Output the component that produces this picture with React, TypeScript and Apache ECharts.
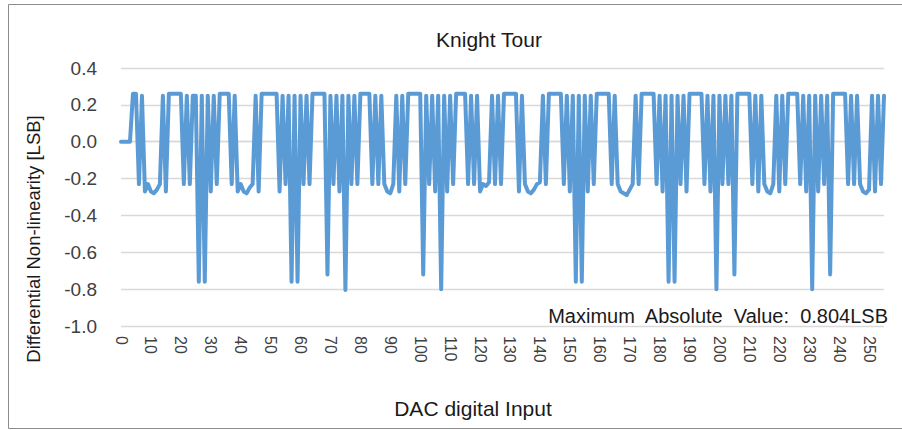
import React, { useEffect, useRef } from "react";
import * as echarts from "echarts";

// DAC input codes 0..255
const codes: string[] = Array.from({ length: 256 }, (_, i) => String(i));

// Differential non-linearity per code [LSB]
const dnl: number[] = [
  0, 0, 0, 0, 0.26, 0.26, -0.23, 0.25, -0.27, -0.23, -0.27, -0.28, -0.26, -0.23, 0.25, -0.27,
  0.26, 0.26, 0.26, 0.26, 0.26, -0.23, 0.25, -0.23, 0.25, 0.25, -0.76, 0.25, -0.76, 0.25, -0.27, 0.25,
  -0.23, 0.26, 0.26, 0.26, 0.26, -0.23, 0.25, -0.27, -0.23, -0.27, -0.28, -0.25, -0.23, 0.25, -0.27, 0.26,
  0.26, 0.26, 0.26, 0.26, 0.26, -0.27, 0.25, -0.23, 0.25, -0.76, 0.25, -0.76, 0.25, -0.23, 0.25, -0.23,
  0.26, 0.26, 0.26, 0.26, 0.26, -0.72, 0.25, -0.23, 0.25, -0.27, 0.25, -0.804, 0.25, -0.23, 0.25, -0.23,
  0.26, 0.26, 0.26, 0.26, -0.23, 0.25, -0.23, 0.25, -0.23, -0.27, -0.28, -0.23, 0.25, -0.27, 0.25, -0.23,
  0.26, 0.26, 0.26, 0.26, 0.26, -0.72, 0.25, -0.23, 0.25, -0.27, 0.25, -0.8, 0.25, -0.27, 0.25, -0.23,
  0.26, 0.26, 0.26, 0.26, -0.23, 0.25, -0.23, 0.25, -0.27, -0.23, -0.24, -0.22, 0.25, -0.23, 0.25, -0.23,
  0.26, 0.26, 0.26, 0.26, 0.26, -0.27, 0.25, -0.23, -0.27, -0.28, -0.26, -0.23, -0.22, 0.25, -0.23, 0.26,
  0.26, 0.26, 0.26, 0.26, -0.23, 0.25, -0.27, 0.25, -0.76, 0.25, -0.76, 0.25, -0.27, 0.25, -0.23, 0.26,
  0.26, 0.26, 0.26, 0.26, -0.23, 0.25, -0.23, -0.27, -0.28, -0.29, -0.26, -0.23, 0.25, -0.23, 0.26, 0.26,
  0.26, 0.26, 0.26, -0.23, 0.25, -0.27, 0.25, -0.76, 0.25, -0.76, 0.25, -0.23, 0.25, -0.27, 0.26, 0.26,
  0.26, 0.26, 0.26, -0.23, 0.25, -0.27, 0.25, -0.8, 0.25, -0.23, 0.25, -0.23, 0.25, -0.72, 0.26, 0.26,
  0.26, 0.26, 0.26, -0.23, 0.25, -0.27, 0.25, -0.23, -0.27, -0.28, -0.23, 0.25, -0.27, 0.25, -0.23, 0.26,
  0.26, 0.26, 0.26, -0.23, 0.25, -0.27, 0.25, -0.8, 0.25, -0.27, 0.25, -0.23, 0.25, -0.72, 0.26, 0.26,
  0.26, 0.26, 0.26, -0.23, 0.25, -0.23, 0.25, -0.23, -0.27, -0.28, -0.26, 0.25, -0.27, 0.25, -0.23, 0.25,
];

const chartTitle = "Knight Tour";
const yName = "Differential Non-linearity [LSB]";
const xName = "DAC digital Input";
const maxAbs = Math.max(...dnl.map((v) => Math.abs(v)));
const note = `Maximum  Absolute  Value:  ${maxAbs.toFixed(3)}LSB`;

const FONT = "Liberation Sans, Arial, sans-serif";

export default function App() {
  const ref = useRef<HTMLDivElement>(null);

  useEffect(() => {
    if (!ref.current) return;
    const chart = echarts.init(ref.current, undefined, { renderer: "svg" });
    chart.setOption({
      animation: false,
      backgroundColor: "#ffffff",
      grid: { left: 121, right: 18, top: 68, bottom: 104 },
      xAxis: {
        type: "category",
        data: codes,
        boundaryGap: false,
        axisLine: { show: true, lineStyle: { color: "#d9d9d9", width: 1.3 } },
        axisTick: { show: false },
        axisLabel: {
          interval: 9,
          rotate: -90,
          margin: 10,
          color: "#404040",
          fontSize: 16,
          fontFamily: FONT,
        },
        splitLine: { show: false },
      },
      yAxis: {
        type: "value",
        min: -1.0,
        max: 0.4,
        interval: 0.2,
        axisLine: { show: false },
        axisTick: { show: false },
        axisLabel: {
          formatter: (v: number) => v.toFixed(1),
          color: "#404040",
          fontSize: 19,
          fontFamily: FONT,
          margin: 24,
        },
        splitLine: { show: true, lineStyle: { color: "#d9d9d9", width: 1.3 } },
      },
      series: [
        {
          type: "line",
          data: dnl,
          showSymbol: false,
          symbol: "none",
          lineStyle: { color: "#5b9bd5", width: 4, join: "round", cap: "round" },
          z: 3,
        },
      ],
      graphic: [
        {
          type: "rect",
          shape: { x: 8.5, y: 4.5, width: 900, height: 424 },
          style: { fill: "none", stroke: "#8c8c8c", lineWidth: 1 },
          silent: true,
        },
        {
          type: "text",
          x: 489,
          y: 39,
          style: {
            text: chartTitle,
            align: "center",
            verticalAlign: "middle",
            font: `21px ${FONT}`,
            fill: "#1a1a1a",
          },
        },
        {
          type: "text",
          x: 33,
          y: 239,
          rotation: Math.PI / 2,
          style: {
            text: yName,
            align: "center",
            verticalAlign: "middle",
            font: `18.5px ${FONT}`,
            fill: "#1a1a1a",
          },
        },
        {
          type: "text",
          x: 473,
          y: 408,
          style: {
            text: xName,
            align: "center",
            verticalAlign: "middle",
            font: `21px ${FONT}`,
            fill: "#1a1a1a",
          },
        },
        {
          type: "text",
          x: 888,
          y: 316,
          z: 10,
          style: {
            text: note,
            align: "right",
            verticalAlign: "middle",
            font: `20px ${FONT}`,
            fill: "#1a1a1a",
          },
        },
      ],
    });
    return () => chart.dispose();
  }, []);

  return (
    <div
      ref={ref}
      style={{ position: "fixed", left: 0, top: 0, width: 902, height: 430 }}
    />
  );
}
